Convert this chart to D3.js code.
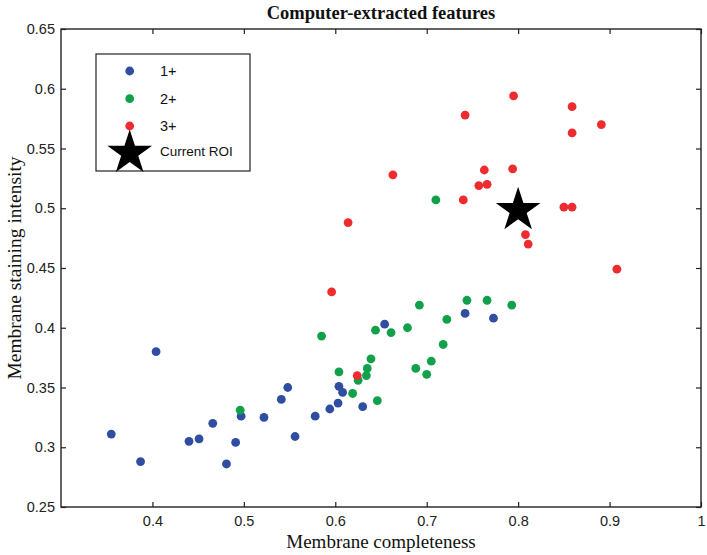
<!DOCTYPE html>
<html><head><meta charset="utf-8">
<script src="https://cdn.jsdelivr.net/npm/d3@7"></script>
<style>body{margin:0;background:#fff}svg{display:block}</style>
</head><body>
<script>
const xTicks = [0.4,0.5,0.6,0.7,0.8,0.9,1];
const yTicks = [0.25,0.3,0.35,0.4,0.45,0.5,0.55,0.6,0.65];
const xTickLabels = ["0.4","0.5","0.6","0.7","0.8","0.9","1"];
const yTickLabels = ["0.25","0.3","0.35","0.4","0.45","0.5","0.55","0.6","0.65"];
const seriesNames = ["1+","2+","3+"];
const seriesColors = ["#2f4ea2","#12a14b","#ee2b2f"];
const blueX = [0.355,0.404,0.387,0.440,0.451,0.466,0.481,0.491,0.497,0.522,0.541,0.548,0.556,0.578,0.594,0.603,0.604,0.608,0.630,0.654,0.742,0.773];
const blueY = [0.311,0.380,0.288,0.305,0.307,0.320,0.286,0.304,0.326,0.325,0.340,0.350,0.309,0.326,0.332,0.337,0.351,0.346,0.334,0.403,0.412,0.408];
const greenX = [0.496,0.585,0.604,0.692,0.744,0.766,0.793,0.644,0.661,0.679,0.722,0.718,0.639,0.705,0.688,0.700,0.635,0.634,0.625,0.619,0.646,0.710];
const greenY = [0.331,0.393,0.363,0.419,0.423,0.423,0.419,0.398,0.396,0.400,0.407,0.386,0.374,0.372,0.366,0.361,0.366,0.360,0.356,0.345,0.339,0.507];
const redX = [0.596,0.624,0.795,0.859,0.859,0.742,0.763,0.794,0.663,0.757,0.766,0.740,0.850,0.859,0.808,0.811,0.891,0.908,0.614];
const redY = [0.430,0.360,0.594,0.585,0.563,0.578,0.532,0.533,0.528,0.519,0.520,0.507,0.501,0.501,0.478,0.470,0.570,0.449,0.488];
const roiX = [0.8];
const roiY = [0.5];

const W = 707, H = 555;
const m = {l:61, t:29, r:701, b:507};
const svg = d3.select("body").append("svg").attr("width",W).attr("height",H);
const x = d3.scaleLinear().domain([0.3,1]).range([m.l,m.r]);
const y = d3.scaleLinear().domain([0.25,0.65]).range([m.b,m.t]);

const tk = 5;
const axStyle = g => { g.select(".domain").remove(); g.selectAll("line").attr("stroke","#222").attr("stroke-width",1.2);
  g.selectAll("text").attr("font-family","Liberation Sans, Arial, sans-serif").attr("font-size",14.5).attr("fill","#222"); };
svg.append("g").attr("transform",`translate(0,${m.b})`)
  .call(d3.axisBottom(x).tickValues(xTicks).tickSizeInner(-tk).tickSizeOuter(0).tickPadding(9).tickFormat((d,i)=>xTickLabels[i]))
  .call(axStyle);
svg.append("g").attr("transform",`translate(0,${m.t})`)
  .call(d3.axisTop(x).tickValues(xTicks).tickSizeInner(-tk).tickSizeOuter(0).tickFormat(""))
  .call(axStyle);
svg.append("g").attr("transform",`translate(${m.l},0)`)
  .call(d3.axisLeft(y).tickValues(yTicks).tickSizeInner(-tk).tickSizeOuter(0).tickPadding(6).tickFormat((d,i)=>yTickLabels[i]))
  .call(axStyle);
svg.append("g").attr("transform",`translate(${m.r},0)`)
  .call(d3.axisRight(y).tickValues(yTicks).tickSizeInner(-tk).tickSizeOuter(0).tickFormat(""))
  .call(axStyle);
svg.append("rect").attr("x",m.l).attr("y",m.t).attr("width",m.r-m.l).attr("height",m.b-m.t)
  .attr("fill","none").attr("stroke","#222").attr("stroke-width",1.4);

const series = [[blueX,blueY],[greenX,greenY],[redX,redY]];
series.forEach((s,k)=>{
  svg.append("g").selectAll("circle").data(s[0]).join("circle")
    .attr("cx",(d)=>x(d)).attr("cy",(d,i)=>y(s[1][i])).attr("r",4.4).attr("fill",seriesColors[k]);
});

function starPath(R){
  const r = R*0.382; const pts=[];
  for(let i=0;i<10;i++){const a=-Math.PI/2+i*Math.PI/5; const rr=i%2?r:R; pts.push([rr*Math.cos(a),rr*Math.sin(a)]);}
  return "M"+pts.map(p=>p.join(",")).join("L")+"Z";
}
svg.append("g").selectAll("path").data(roiX).join("path")
  .attr("transform",(d,i)=>`translate(${x(d)},${y(roiY[i])+2})`).attr("d",starPath(23.5)).attr("fill","#000");

const lg = svg.append("g");
lg.append("rect").attr("x",96).attr("y",54).attr("width",154).attr("height",117).attr("fill","#fff").attr("stroke","#222").attr("stroke-width",1.2);
const ly = [71,98.7,126];
seriesNames.forEach((n,k)=>{
  lg.append("circle").attr("cx",129.7).attr("cy",ly[k]).attr("r",4.4).attr("fill",seriesColors[k]);
  lg.append("text").attr("x",160).attr("y",ly[k]).attr("dy","0.36em").text(n)
    .attr("font-family","Liberation Sans, Arial, sans-serif").attr("font-size",14.5).attr("fill","#111");
});
lg.append("path").attr("transform","translate(129.7,153)").attr("d",starPath(23.5)).attr("fill","#000");
lg.append("text").attr("x",160).attr("y",151).attr("dy","0.36em").text("Current ROI")
  .attr("font-family","Liberation Sans, Arial, sans-serif").attr("font-size",13.5).attr("fill","#111");

svg.append("text").attr("x",(m.l+m.r)/2).attr("y",19).attr("text-anchor","middle").text("Computer-extracted features")
  .attr("font-family","Liberation Serif, Times New Roman, serif").attr("font-weight","bold").attr("font-size",18.5).attr("fill","#111");
svg.append("text").attr("x",(m.l+m.r)/2).attr("y",548).attr("text-anchor","middle").text("Membrane completeness")
  .attr("font-family","Liberation Serif, Times New Roman, serif").attr("font-size",19).attr("fill","#111");
svg.append("text").attr("transform",`translate(21,${(m.t+m.b)/2}) rotate(-90)`).attr("text-anchor","middle").text("Membrane staining intensity")
  .attr("font-family","Liberation Serif, Times New Roman, serif").attr("font-size",19.5).attr("fill","#111");
</script>
</body></html>
